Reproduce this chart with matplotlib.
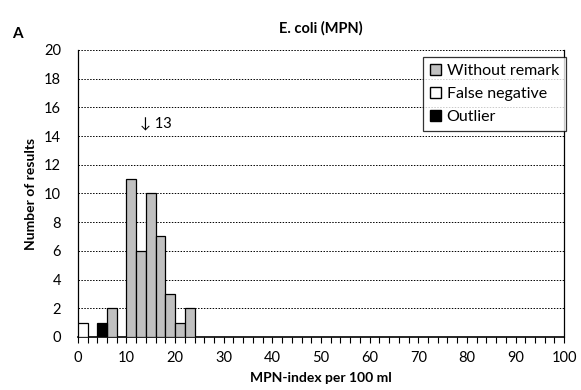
import matplotlib
matplotlib.use("Agg")
import matplotlib.pyplot as plt
from matplotlib.patches import Patch

plt.rcParams['font.family'] = ['Lato', 'DejaVu Sans']

# Data (bin left edges, bin width 2)
bin_width = 2
without_remark_bins = [6, 10, 12, 14, 16, 18, 20, 22]
without_remark_counts = [2, 11, 6, 10, 7, 3, 1, 2]
false_negative_bins = [0]
false_negative_counts = [1]
outlier_bins = [4]
outlier_counts = [1]

arrow_label = "↓ 13"
arrow_x = 12.8
arrow_y = 14.9

x_ticks = list(range(0, 101, 10))
y_ticks = list(range(0, 21, 2))

fig = plt.figure(figsize=(5.81, 3.90), dpi=100)
ax = fig.add_axes([0.134, 0.136, 0.837, 0.736])

ax.bar(without_remark_bins, without_remark_counts, width=bin_width, align='edge',
       color='#c0c0c0', edgecolor='black', linewidth=0.9, zorder=3, label='Without remark')
ax.bar(false_negative_bins, false_negative_counts, width=bin_width, align='edge',
       color='white', edgecolor='black', linewidth=0.9, zorder=3, label='False negative')
ax.bar(outlier_bins, outlier_counts, width=bin_width, align='edge',
       color='black', edgecolor='black', linewidth=0.9, zorder=3, label='Outlier')

ax.set_xlim(0, 100)
ax.set_ylim(0, 20)
ax.set_xticks(x_ticks)
ax.set_xticks(list(range(0, 101, 2)), minor=True)
ax.set_yticks(y_ticks)
ax.tick_params(axis='x', which='both', direction='out', length=4, width=0.8, labelsize=10.5, pad=6)
ax.tick_params(axis='y', which='both', length=0, labelsize=10.5, pad=12)

ax.yaxis.grid(True, linestyle=(0, (1.5, 1.5)), color='black', linewidth=0.7, zorder=0)
ax.set_axisbelow(True)

ax.spines['top'].set_visible(False)
for s in ['left', 'bottom', 'right']:
    ax.spines[s].set_linewidth(0.9)
    ax.spines[s].set_color('black')
ax.spines['bottom'].set_linewidth(1.2)

ax.text(arrow_x, arrow_y, arrow_label, fontsize=10.5, ha='left', va='center')

ax.set_xlabel('MPN-index per 100 ml', fontsize=10, fontweight='bold', labelpad=5)
ax.set_ylabel('Number of results', fontsize=10, fontweight='bold', labelpad=5)
fig.text(0.553, 0.927, 'E. coli (MPN)', fontsize=10.5, fontweight='bold', ha='center', va='center')
fig.text(0.02, 0.912, 'A', fontsize=11, fontweight='bold', ha='left', va='center')

handles = [Patch(facecolor='#c0c0c0', edgecolor='black', label='Without remark'),
           Patch(facecolor='white', edgecolor='black', label='False negative'),
           Patch(facecolor='black', edgecolor='black', label='Outlier')]
leg = ax.legend(handles=handles, loc='upper right', bbox_to_anchor=(1.004, 0.977),
                fontsize=11.5, frameon=True, fancybox=False, edgecolor='black',
                handlelength=0.7, handleheight=0.7, handletextpad=0.35,
                borderpad=0.45, labelspacing=0.55, borderaxespad=0)
leg.get_frame().set_linewidth(0.9)

fig.savefig('out.png', dpi=100)
